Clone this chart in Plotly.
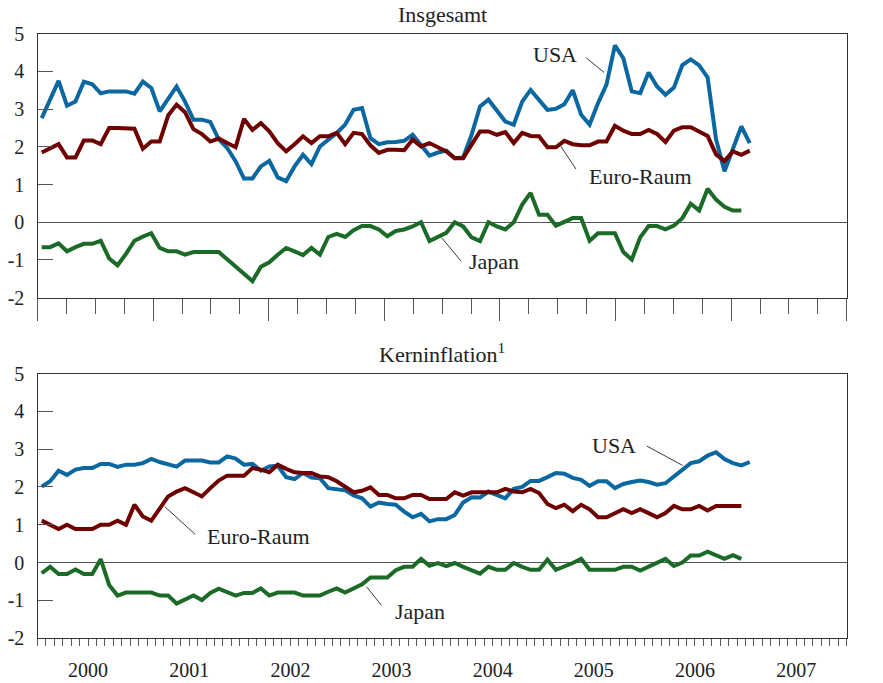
import plotly.graph_objects as go

# ---------------- data (monthly, Jan 2000 onwards) ----------------
years = ["2000", "2001", "2002", "2003", "2004", "2005", "2006", "2007"]

usa_total = [2.76, 3.26, 3.75, 3.09, 3.20, 3.73, 3.66, 3.42, 3.47, 3.47, 3.47, 3.41,
             3.73, 3.56, 2.94, 3.27, 3.60, 3.20, 2.72, 2.72, 2.66, 2.20, 1.97, 1.62,
             1.16, 1.16, 1.48, 1.63, 1.19, 1.09, 1.48, 1.79, 1.54, 2.01, 2.19, 2.37,
             2.59, 2.98, 3.03, 2.23, 2.07, 2.12, 2.13, 2.16, 2.32, 2.04, 1.77, 1.85,
             1.90, 1.70, 1.72, 2.32, 3.07, 3.25, 2.98, 2.67, 2.59, 3.20, 3.51, 3.25,
             2.98, 3.01, 3.13, 3.50, 2.85, 2.59, 3.16, 3.65, 4.69, 4.35, 3.47, 3.42,
             3.97, 3.60, 3.38, 3.57, 4.17, 4.32, 4.16, 3.84, 2.20, 1.35, 1.92, 2.54,
             2.10]

euro_total = [1.85, 1.97, 2.07, 1.72, 1.72, 2.17, 2.17, 2.07, 2.50, 2.50, 2.50, 2.48,
              1.95, 2.14, 2.14, 2.83, 3.12, 2.92, 2.47, 2.34, 2.14, 2.22, 2.10, 1.99,
              2.74, 2.45, 2.63, 2.41, 2.10, 1.88, 2.07, 2.28, 2.10, 2.28, 2.28, 2.37,
              2.07, 2.37, 2.34, 2.04, 1.84, 1.92, 1.92, 1.91, 2.19, 2.01, 2.10, 1.99,
              1.88, 1.70, 1.70, 2.06, 2.41, 2.41, 2.32, 2.39, 2.10, 2.37, 2.29, 2.28,
              1.99, 1.99, 2.16, 2.07, 2.04, 2.04, 2.14, 2.14, 2.56, 2.43, 2.34, 2.34,
              2.45, 2.34, 2.13, 2.43, 2.52, 2.52, 2.41, 2.29, 1.80, 1.62, 1.88, 1.79,
              1.90]

japan_total = [-0.66, -0.66, -0.56, -0.77, -0.66, -0.57, -0.57, -0.49, -0.96, -1.14, -0.84, -0.49,
               -0.38, -0.29, -0.68, -0.77, -0.77, -0.86, -0.79, -0.79, -0.79, -0.79, -0.98, -1.17,
               -1.37, -1.56, -1.18, -1.06, -0.86, -0.68, -0.77, -0.87, -0.68, -0.86, -0.39, -0.31,
               -0.39, -0.21, -0.10, -0.10, -0.19, -0.37, -0.23, -0.19, -0.11, 0.00, -0.50, -0.40,
               -0.28, 0.00, -0.11, -0.40, -0.50, 0.00, -0.11, -0.19, 0.00, 0.47, 0.78, 0.20,
               0.20, -0.09, 0.00, 0.11, 0.11, -0.49, -0.29, -0.29, -0.29, -0.79, -0.99, -0.40,
               -0.10, -0.10, -0.19, -0.09, 0.11, 0.49, 0.31, 0.89, 0.60, 0.41, 0.31, 0.31]

usa_core = [2.01, 2.15, 2.43, 2.32, 2.46, 2.50, 2.50, 2.61, 2.61, 2.53, 2.59, 2.59,
            2.63, 2.74, 2.66, 2.59, 2.54, 2.70, 2.70, 2.70, 2.65, 2.65, 2.81, 2.75,
            2.59, 2.61, 2.43, 2.54, 2.56, 2.26, 2.21, 2.37, 2.25, 2.23, 1.97, 1.93,
            1.91, 1.78, 1.70, 1.48, 1.59, 1.55, 1.53, 1.35, 1.20, 1.29, 1.09, 1.15,
            1.15, 1.26, 1.59, 1.73, 1.72, 1.88, 1.78, 1.70, 1.95, 2.00, 2.16, 2.16,
            2.26, 2.37, 2.35, 2.24, 2.19, 2.03, 2.15, 2.15, 1.97, 2.08, 2.13, 2.17,
            2.13, 2.06, 2.10, 2.28, 2.44, 2.63, 2.68, 2.83, 2.92, 2.74, 2.63, 2.57,
            2.66]

euro_core = [1.11, 1.00, 0.89, 1.00, 0.89, 0.89, 0.89, 1.00, 1.00, 1.11, 1.00, 1.53,
             1.22, 1.11, 1.44, 1.75, 1.88, 1.97, 1.86, 1.75, 1.97, 2.17, 2.30, 2.30,
             2.30, 2.50, 2.46, 2.39, 2.59, 2.48, 2.39, 2.37, 2.37, 2.28, 2.26, 2.15,
             1.99, 1.86, 1.90, 1.99, 1.79, 1.79, 1.70, 1.70, 1.79, 1.79, 1.68, 1.68,
             1.68, 1.86, 1.77, 1.86, 1.86, 1.86, 1.86, 1.95, 1.88, 1.86, 1.95, 1.84,
             1.55, 1.44, 1.53, 1.36, 1.53, 1.41, 1.20, 1.20, 1.31, 1.41, 1.31, 1.41,
             1.31, 1.20, 1.31, 1.50, 1.41, 1.41, 1.50, 1.38, 1.50, 1.50, 1.50, 1.50]

japan_core = [-0.28, -0.11, -0.30, -0.30, -0.18, -0.30, -0.30, 0.09, -0.59, -0.87, -0.79, -0.79,
              -0.79, -0.79, -0.87, -0.87, -1.08, -0.97, -0.87, -0.99, -0.80, -0.69, -0.79, -0.87,
              -0.80, -0.80, -0.68, -0.87, -0.79, -0.79, -0.79, -0.87, -0.87, -0.87, -0.77, -0.68,
              -0.79, -0.68, -0.57, -0.39, -0.39, -0.39, -0.20, -0.11, -0.11, 0.10, -0.08, -0.01,
              -0.09, -0.01, -0.11, -0.19, -0.29, -0.11, -0.19, -0.19, -0.01, -0.11, -0.19, -0.19,
              0.08, -0.19, -0.11, -0.01, 0.10, -0.19, -0.19, -0.19, -0.19, -0.11, -0.11, -0.21,
              -0.11, 0.00, 0.10, -0.09, 0.00, 0.19, 0.19, 0.29, 0.20, 0.10, 0.20, 0.10]

# month index (mid-month): 0.5 = Jan 2000
def months(vals):
    return [i + 0.5 for i in range(len(vals))]

# ---------------- style ----------------
FONT = "Liberation Serif"
C_USA = "#0a67a0"
C_EUR = "#6e0000"
C_JPN = "#1c6a27"
AX = "#333333"
TK = "#555555"
LW = 4

W, H = 883, 683
px_l, px_r = 37.5, 846.7
xdom = [px_l / W, px_r / W]
ydom_top = [1 - 297.7 / H, 1 - 33.7 / H]
ydom_bot = [1 - 638.3 / H, 1 - 373.5 / H]

NMONTHS = 96
fig = go.Figure()

for vals, col in [(usa_total, C_USA), (euro_total, C_EUR), (japan_total, C_JPN)]:
    fig.add_trace(go.Scatter(x=months(vals), y=vals, mode="lines",
                             line=dict(color=col, width=LW), xaxis="x", yaxis="y",
                             showlegend=False, hoverinfo="skip"))
for vals, col in [(usa_core, C_USA), (euro_core, C_EUR), (japan_core, C_JPN)]:
    fig.add_trace(go.Scatter(x=months(vals), y=vals, mode="lines",
                             line=dict(color=col, width=LW), xaxis="x2", yaxis="y2",
                             showlegend=False, hoverinfo="skip"))

ytick = list(range(-2, 6))
common_y = dict(range=[-2, 5], tickmode="array", tickvals=ytick, ticktext=[str(v) for v in ytick],
                ticks="inside", ticklen=15, tickwidth=1.2, tickcolor=TK, showgrid=False,
                automargin=False,
                tickfont=dict(family=FONT, size=20, color="#222"), fixedrange=True)

# top panel: 7 equal intervals, quarters and "months"
top_long = [k * NMONTHS / 7 for k in range(8)]
top_mid = [k * NMONTHS / 28 for k in range(29)]
top_small = [k * NMONTHS / 84 for k in range(85)]
bot_long = [12 * k for k in range(9)]
bot_mid = [3 * k for k in range(33)]
bot_small = list(range(97))
year_mid = [12 * k + 6 for k in range(8)]

noaxis = dict(showgrid=False, zeroline=False, showline=False, automargin=False)

fig.update_layout(
    template="none",
    width=W, height=H, margin=dict(l=0, r=0, t=0, b=0, autoexpand=False),
    paper_bgcolor="white", plot_bgcolor="white",
    font=dict(family=FONT, color="#222"),
    xaxis=dict(domain=xdom, anchor="y", range=[0, NMONTHS], showline=True, mirror=True,
               linecolor=AX, linewidth=1.3, zeroline=False, showgrid=False, automargin=False,
               tickmode="array", tickvals=top_long, ticks="outside", ticklen=22,
               tickwidth=1.2, tickcolor=TK, showticklabels=False,
               minor=dict(tickmode="array", tickvals=top_mid, ticks="outside", ticklen=15,
                          tickwidth=1.2, tickcolor=TK, showgrid=False)),
    xaxis3=dict(overlaying="x", anchor="y", range=[0, NMONTHS], **noaxis,
                tickmode="array", tickvals=top_small, ticks="outside", ticklen=7,
                tickwidth=1.2, tickcolor=TK, showticklabels=False),
    yaxis=dict(domain=ydom_top, anchor="x", showline=True, mirror=True, linecolor=AX,
               linewidth=1.3, zeroline=True, zerolinecolor=TK, zerolinewidth=1.2,
               ticklabelstandoff=8, **common_y),
    yaxis3=dict(overlaying="y", anchor="x", side="right", zeroline=False, showline=False,
                ticklabelstandoff=18, **common_y),
    xaxis2=dict(domain=xdom, anchor="y2", range=[0, NMONTHS], showline=True, mirror=True,
                linecolor=AX, linewidth=1.3, zeroline=False, showgrid=False, automargin=False,
                tickmode="array", tickvals=year_mid, ticktext=years, ticks="outside",
                ticklen=14, tickcolor="rgba(0,0,0,0)",
                tickfont=dict(family=FONT, size=20, color="#222"),
                minor=dict(tickmode="array", tickvals=bot_small, ticks="outside", ticklen=7,
                           tickwidth=1.2, tickcolor=TK, showgrid=False)),
    xaxis4=dict(overlaying="x2", anchor="y2", range=[0, NMONTHS], **noaxis,
                tickmode="array", tickvals=bot_long, ticks="outside", ticklen=22,
                tickwidth=1.2, tickcolor=TK, showticklabels=False,
                minor=dict(tickmode="array", tickvals=bot_mid, ticks="outside", ticklen=15,
                           tickwidth=1.2, tickcolor=TK, showgrid=False)),
    yaxis2=dict(domain=ydom_bot, anchor="x2", showline=True, mirror=True, linecolor=AX,
                linewidth=1.3, zeroline=True, zerolinecolor=TK, zerolinewidth=1.2,
                ticklabelstandoff=8, **common_y),
    yaxis4=dict(overlaying="y2", anchor="x2", side="right", zeroline=False, showline=False,
                ticklabelstandoff=18, **common_y),
)

tfont = dict(family=FONT, size=22, color="#222")
ann = []
# panel titles
ann.append(dict(text="Insgesamt", xref="paper", yref="paper", x=0.5 * (xdom[0] + xdom[1]),
                y=1 - 15 / H, xanchor="center", yanchor="middle", showarrow=False, font=tfont))
ann.append(dict(text="Kerninflation<sup>1</sup>", xref="paper", yref="paper",
                x=0.5 * (xdom[0] + xdom[1]), y=1 - 353 / H, xanchor="center",
                yanchor="middle", showarrow=False, font=tfont))

# series labels (x in months, y in %)
labels = [
    ("USA", "x", "y", 61.4, 4.44, (65.1, 4.36), (67.4, 3.94)),
    ("Euro-Raum", "x", "y", 71.5, 1.22, (62.1, 2.01), (64.0, 1.37)),
    ("Japan", "x", "y", 54.2, -1.04, (47.95, -0.41), (50.4, -1.07)),
    ("USA", "x2", "y2", 68.4, 3.10, (72.3, 3.08), (76.7, 2.55)),
    ("Euro-Raum", "x2", "y2", 26.2, 0.70, (15.1, 1.48), (18.9, 0.71)),
    ("Japan", "x2", "y2", 45.4, -1.30, (39.05, -0.64), (40.95, -1.17)),
]
for txt, xr, yr, tx, ty, p_from, p_to in labels:
    ann.append(dict(text=txt, xref=xr, yref=yr, x=tx, y=ty, xanchor="center",
                    yanchor="middle", showarrow=False, font=tfont))
    ann.append(dict(text="", xref=xr, yref=yr, x=p_from[0], y=p_from[1],
                    axref=xr, ayref=yr, ax=p_to[0], ay=p_to[1], showarrow=True,
                    arrowhead=0, arrowwidth=0.9, arrowcolor="#222", standoff=0,
                    startstandoff=0))
fig.update_layout(annotations=ann)

fig.write_html("out.html", config={"displayModeBar": False},
               post_script="document.body.style.margin='0';document.body.style.overflow='hidden';")
